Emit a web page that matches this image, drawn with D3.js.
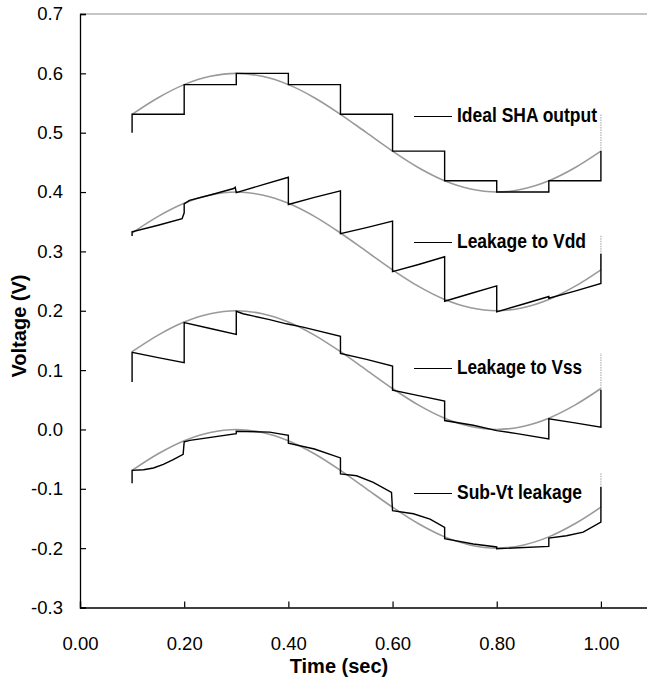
<!DOCTYPE html>
<html>
<head>
<meta charset="utf-8">
<script src="https://cdn.jsdelivr.net/npm/d3@7"></script>
<style>
  body { margin: 0; background: #fff; }
  svg { display: block; font-family: "Liberation Sans", Arial, sans-serif; }
</style>
</head>
<body>
<svg id="chart" width="647" height="680"></svg>
<script>
// time samples for the analog input (sec)
var inputTimes = [0.10, 0.15, 0.20, 0.25, 0.30, 0.35, 0.40, 0.45, 0.50, 0.55,
                  0.60, 0.65, 0.70, 0.75, 0.80, 0.85, 0.90, 0.95, 1.00];

// gray input waves, one per trace
var inputIdeal = [0.531, 0.559, 0.581, 0.595, 0.600, 0.595, 0.581, 0.559, 0.531, 0.500,
                  0.469, 0.441, 0.419, 0.405, 0.400, 0.405, 0.419, 0.441, 0.469];
var inputVdd   = [0.331, 0.359, 0.381, 0.395, 0.400, 0.395, 0.381, 0.359, 0.331, 0.300,
                  0.269, 0.241, 0.219, 0.205, 0.200, 0.205, 0.219, 0.241, 0.269];
var inputVss   = [0.131, 0.159, 0.181, 0.195, 0.200, 0.195, 0.181, 0.159, 0.131, 0.100,
                  0.069, 0.041, 0.019, 0.005, 0.000, 0.005, 0.019, 0.041, 0.069];
var inputSubVt = [-0.069, -0.041, -0.019, -0.005, 0.000, -0.005, -0.019, -0.041, -0.069, -0.100,
                  -0.131, -0.159, -0.181, -0.195, -0.200, -0.195, -0.181, -0.159, -0.131];
// value the gray wave jumps back to at t = 1.0
var inputRestart = [0.531, 0.327, 0.129, -0.073];

// black held outputs: [time, volts]
var outIdeal = [[0.1,0.500],[0.1,0.531],[0.2,0.531],[0.2,0.581],[0.3,0.581],[0.3,0.600],
  [0.4,0.600],[0.4,0.581],[0.5,0.581],[0.5,0.531],[0.6,0.531],[0.6,0.469],[0.7,0.469],
  [0.7,0.419],[0.8,0.419],[0.8,0.400],[0.9,0.400],[0.9,0.419],[1.0,0.419],[1.0,0.469]];

var outVdd = [[0.1,0.326],[0.1,0.333],[0.15,0.344],[0.196,0.355],[0.2,0.365],[0.2,0.380],
  [0.21,0.386],[0.25,0.395],[0.295,0.406],[0.298,0.408],[0.3,0.399],[0.35,0.412],[0.4,0.425],
  [0.4,0.379],[0.45,0.391],[0.5,0.402],[0.5,0.330],[0.55,0.340],[0.6,0.351],[0.6,0.266],
  [0.65,0.278],[0.7,0.291],[0.7,0.216],[0.75,0.229],[0.8,0.242],[0.8,0.198],[0.85,0.211],
  [0.9,0.224],[0.9,0.221],[0.95,0.233],[1.0,0.246],[1.0,0.296]];

var outVss = [[0.1,0.080],[0.1,0.130],[0.15,0.121],[0.2,0.1125],[0.2,0.180],[0.25,0.170],
  [0.3,0.160],[0.3,0.199],[0.313,0.195],[0.364,0.185],[0.396,0.178],[0.428,0.1725],[0.5,0.157],
  [0.5,0.128],[0.55,0.118],[0.6,0.107],[0.6,0.066],[0.65,0.057],[0.7,0.048],[0.7,0.015],
  [0.755,0.007],[0.8,-0.002],[0.839,-0.007],[0.9,-0.016],[0.9,0.018],[0.95,0.011],
  [1.0,0.004],[1.0,0.067]];

var outSubVt = [[0.1,-0.0905],[0.1,-0.069],[0.122,-0.068],[0.141,-0.065],[0.16,-0.059],
  [0.179,-0.051],[0.198,-0.042],[0.2,-0.021],[0.211,-0.0185],[0.3,-0.007],[0.3,-0.003],
  [0.364,-0.0045],[0.4,-0.010],[0.4,-0.023],[0.45,-0.033],[0.5,-0.048],[0.5,-0.075],
  [0.531,-0.078],[0.563,-0.089],[0.598,-0.106],[0.6,-0.137],[0.64,-0.142],[0.672,-0.151],
  [0.7,-0.165],[0.7,-0.184],[0.755,-0.193],[0.8,-0.198],[0.8,-0.201],[0.9,-0.197],
  [0.9,-0.183],[0.934,-0.179],[0.966,-0.173],[1.0,-0.156],[1.0,-0.097]];

var traceNames = ["Ideal SHA output", "Leakage to Vdd", "Leakage to Vss", "Sub-Vt leakage"];
var labelLevels = [0.528, 0.316, 0.104, -0.107];

var xTicks = [0, 0.2, 0.4, 0.6, 0.8, 1.0];
var yTicks = [-0.3, -0.2, -0.1, 0.0, 0.1, 0.2, 0.3, 0.4, 0.5, 0.6, 0.7];

var svg = d3.select("#chart");
var x = d3.scaleLinear().domain([0, 1.1]).range([80, 653]);
var y = d3.scaleLinear().domain([-0.3, 0.7]).range([607.5, 14]);

// plain hyphen minus like the original
function fmt(n){ return function(d){ return d.toFixed(n).replace("\u2212", "-"); }; }

// top border of the plot area
svg.append("line")
    .attr("x1", 80).attr("x2", 647)
    .attr("y1", y(0.7)).attr("y2", y(0.7))
    .attr("stroke", "#8c8c8c").attr("stroke-width", 1.2);

var yAxis = svg.append("g")
    .attr("transform", "translate(80,0)")
    .call(d3.axisLeft(y).tickValues(yTicks).tickSize(-6).tickPadding(17)
        .tickFormat(fmt(1)));
yAxis.select(".domain").attr("stroke-width", 1.3);

var xAxis = svg.append("g")
    .attr("transform", "translate(0," + y(-0.3) + ")")
    .call(d3.axisBottom(x).tickValues(xTicks).tickSize(-6).tickPadding(29)
        .tickFormat(fmt(2)));
xAxis.select(".domain").attr("stroke-width", 1.3);

svg.selectAll(".tick line").attr("stroke-width", 1.2);
svg.selectAll(".tick text")
    .attr("font-size", "18.5px")
    .attr("fill", "#000")
    .style("font-family", "'Liberation Sans', Arial, sans-serif");

// axis titles
svg.append("text")
    .attr("x", 339).attr("y", 673)
    .attr("text-anchor", "middle")
    .attr("font-size", "20px").attr("font-weight", "bold")
    .text("Time (sec)");

svg.append("text")
    .attr("transform", "translate(26,326) rotate(-90)")
    .attr("text-anchor", "middle")
    .attr("font-size", "20px").attr("font-weight", "bold")
    .text("Voltage (V)");

var inputs = [inputIdeal, inputVdd, inputVss, inputSubVt];
var outputs = [outIdeal, outVdd, outVss, outSubVt];

var smooth = d3.line()
    .x(function(d){ return x(d[0]); })
    .y(function(d){ return y(d[1]); })
    .curve(d3.curveCatmullRom);

var straight = d3.line()
    .x(function(d){ return x(d[0]); })
    .y(function(d){ return y(d[1]); });

inputs.forEach(function(wave, k){
    var pts = wave.map(function(v, i){ return [inputTimes[i], v]; });
    svg.append("path")
        .attr("d", smooth(pts))
        .attr("fill", "none")
        .attr("stroke", "#9a9a9a")
        .attr("stroke-width", 1.6);
    // jump back at the end of the run
    svg.append("line")
        .attr("x1", x(1.0)).attr("x2", x(1.0))
        .attr("y1", y(wave[wave.length - 1])).attr("y2", y(inputRestart[k]))
        .attr("stroke", "#b0b0b0")
        .attr("stroke-width", 1.2)
        .attr("stroke-dasharray", "1.5,1");
});

outputs.forEach(function(pts){
    svg.append("path")
        .attr("d", straight(pts))
        .attr("fill", "none")
        .attr("stroke", "#000")
        .attr("stroke-width", 1.4)
        .attr("stroke-linejoin", "miter");
});

// labels with short key line
var labelWidths = [140, 129, 125, 125];
traceNames.forEach(function(name, k){
    var ly = Math.round(y(labelLevels[k])) + 0.5;
    svg.append("line")
        .attr("x1", 414).attr("x2", 452)
        .attr("y1", ly).attr("y2", ly)
        .attr("stroke", "#000").attr("stroke-width", 1);
    svg.append("text")
        .attr("x", 457).attr("y", ly + 5)
        .attr("font-size", "20px").attr("font-weight", "bold")
        .attr("textLength", labelWidths[k])
        .attr("lengthAdjust", "spacingAndGlyphs")
        .text(name);
});
</script>
</body>
</html>
